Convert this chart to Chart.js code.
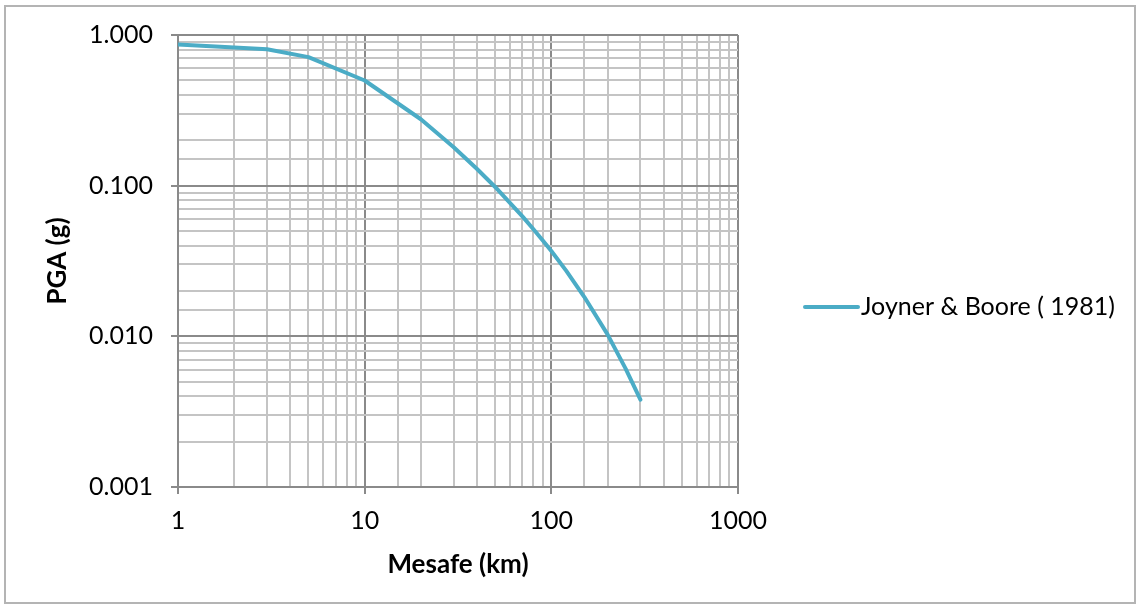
<!DOCTYPE html>
<html>
<head>
<meta charset="utf-8">
<script src="https://cdn.jsdelivr.net/npm/chart.js@4"></script>
<style>
  html, body { margin: 0; padding: 0; background: #fff; }
  #chart { display: block; }
</style>
</head>
<body>
<canvas id="chart" width="1140" height="609"></canvas>
<script>
const seriesLabel = "Joyner & Boore ( 1981)";
const distances = [1, 3, 5, 10, 20, 30, 40, 50, 60, 70, 80, 90, 100, 120, 150, 200, 250, 300];
const pga = [0.865, 0.804, 0.713, 0.499, 0.276, 0.180, 0.129, 0.098, 0.077, 0.0625, 0.0516, 0.0433, 0.0368, 0.0273, 0.0183, 0.0103, 0.0061, 0.0038];

const xDecades = [1, 10, 100, 1000];
const xTickLabels = ["1", "10", "100", "1000"];
const yDecades = [0.001, 0.01, 0.1, 1];
const yTickLabels = ["0.001", "0.010", "0.100", "1.000"];

const FONT = "Lato, 'Open Sans', sans-serif";
const lineColor = "#4BACC6";
const majorGrid = "#8a8a8a";
const minorGrid = "#c4c4c4";

function decadeIndex(list, v) {
  return list.findIndex(d => Math.abs(Math.log10(v) - Math.log10(d)) < 1e-6);
}

function gridColor(list) {
  return ctx => (ctx.tick && decadeIndex(list, ctx.tick.value) >= 0) ? majorGrid : minorGrid;
}
function tickColor(list) {
  return ctx => (ctx.tick && decadeIndex(list, ctx.tick.value) >= 0) ? majorGrid : "rgba(0,0,0,0)";
}

// frame around the whole chart + legend on the right
const frameAndLegend = {
  id: "frameAndLegend",
  beforeDraw(chart) {
    const c = chart.ctx;
    c.save();
    c.fillStyle = "#fff";
    c.fillRect(0, 0, chart.width, chart.height);
    c.strokeStyle = "#b4b4b4";
    c.lineWidth = 2;
    c.strokeRect(5, 6, 1130, 597);
    c.restore();
  },
  afterDraw(chart) {
    const ds = chart.data.datasets[0];
    const c = chart.ctx;
    const y = 307;
    c.save();
    c.strokeStyle = ds.borderColor;
    c.lineWidth = 4;
    c.lineCap = "round";
    c.beginPath();
    c.moveTo(805, y);
    c.lineTo(858, y);
    c.stroke();
    c.fillStyle = "#000";
    c.font = "25px " + FONT;
    c.textAlign = "left";
    c.textBaseline = "middle";
    c.fillText(ds.label, 861, y);
    c.restore();
  }
};

new Chart(document.getElementById("chart"), {
  type: "line",
  data: {
    datasets: [{
      label: seriesLabel,
      data: distances.map((d, i) => ({ x: d, y: pga[i] })),
      borderColor: lineColor,
      backgroundColor: lineColor,
      borderWidth: 4,
      pointRadius: 0,
      tension: 0,
      fill: false,
      borderCapStyle: "round",
      borderJoinStyle: "round"
    }]
  },
  options: {
    responsive: false,
    devicePixelRatio: 1,
    animation: false,
    layout: { padding: { left: 0, top: 35, right: 402, bottom: 0 } },
    plugins: {
      legend: { display: false },
      tooltip: { enabled: false }
    },
    scales: {
      x: {
        type: "logarithmic",
        position: "bottom",
        min: 1,
        max: 1000,
        afterFit: s => { s.height = 122; },
        border: { color: majorGrid, width: 2 },
        grid: { color: gridColor(xDecades), tickColor: tickColor(xDecades), lineWidth: 2, tickLength: 7 },
        ticks: {
          autoSkip: false,
          maxRotation: 0,
          padding: 12,
          color: "#000",
          font: { family: FONT, size: 25 },
          callback: v => { const i = decadeIndex(xDecades, v); return i >= 0 ? xTickLabels[i] : ""; }
        },
        title: {
          display: true,
          text: "Mesafe (km)",
          color: "#000",
          font: { family: FONT, size: 26, weight: "bold" },
          padding: { top: 0, bottom: 29 }
        }
      },
      y: {
        type: "logarithmic",
        position: "left",
        min: 0.001,
        max: 1,
        afterFit: s => { s.width = 178; },
        border: { color: majorGrid, width: 2 },
        grid: { color: gridColor(yDecades), tickColor: tickColor(yDecades), lineWidth: 2, tickLength: 7 },
        ticks: {
          autoSkip: false,
          padding: 18,
          color: "#000",
          font: { family: FONT, size: 25 },
          callback: v => { const i = decadeIndex(yDecades, v); return i >= 0 ? yTickLabels[i] : ""; }
        },
        title: {
          display: true,
          text: "PGA (g)",
          color: "#000",
          font: { family: FONT, size: 26, weight: "bold" },
          padding: { top: 42, bottom: 0 }
        }
      }
    }
  },
  plugins: [frameAndLegend]
});
</script>
</body>
</html>
